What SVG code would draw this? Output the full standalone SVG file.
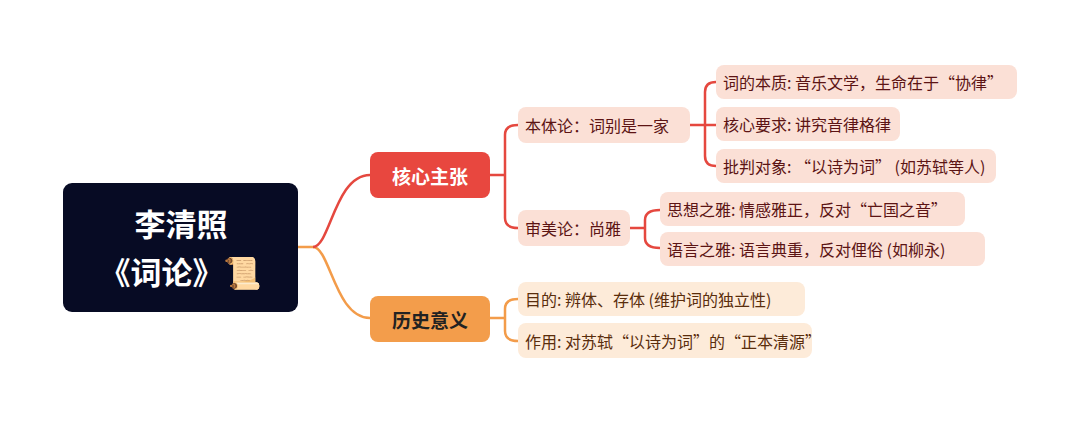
<svg xmlns="http://www.w3.org/2000/svg" width="1080" height="422" viewBox="0 0 1080 422">
<style>
text{font-family:"Noto Sans CJK SC","Liberation Sans",sans-serif;dominant-baseline:central}
.r{fill:#fbe0d6}.o{fill:#fdebd9}
.tr{fill:#5c1414;font-size:16px}.to{fill:#5a2d0c;font-size:16px}
.cr{stroke:#e5483f;stroke-width:2.5;fill:none}.co{stroke:#f39c4a;stroke-width:2.5;fill:none}
</style>
<rect width="1080" height="422" fill="#fff"/>
<g id="connectors">
<path class="co" d="M298 247 H313 C330 247 335 318 370 318"/>
<path class="cr" d="M313 247 C330 247 335 175 370 175"/>
<path class="cr" d="M490 175 H505 M505 175 V135 Q505 125 518 125 M505 175 V218 Q505 228 518 228"/>
<path class="cr" d="M690 125 H705 M705 125 V92 Q705 82 716 82 M705 125 H716 M705 125 V156 Q705 166 716 166"/>
<path class="cr" d="M630 228 H645 M645 228 V220 Q645 210 660 210 M645 228 V238 Q645 248 660 248"/>
<path class="co" d="M490 318 H505 M505 318 V309 Q505 299 518 299 M505 318 V331 Q505 341 518 341"/>
</g>
<g id="root"><rect x="63" y="183" width="235" height="129" rx="9" fill="#070b24"/>
<text x="181" y="222" text-anchor="middle" fill="#fff" font-size="31" font-weight="bold">李清照</text>
<text x="181" y="270" text-anchor="middle" fill="#fff" font-size="31" font-weight="bold">《词论》📜</text></g>
<g id="n1"><rect x="370" y="152" width="120" height="46" rx="8" fill="#e8473f"/><text x="430" y="175" text-anchor="middle" fill="#fff" font-size="19" font-weight="bold">核心主张</text></g>
<g id="n2"><rect x="370" y="296" width="120" height="46" rx="8" fill="#f39d4b"/><text x="430" y="319" text-anchor="middle" fill="#222" font-size="19" font-weight="bold">历史意义</text></g>
<g id="n11"><rect class="r" x="518" y="107" width="172" height="36" rx="8"/><text class="tr" x="525" y="125">本体论：词别是一家</text></g>
<g id="n12"><rect class="r" x="518" y="210" width="112" height="36" rx="8"/><text class="tr" x="525" y="228">审美论：尚雅</text></g>
<g id="l1"><rect class="r" x="716" y="65" width="301" height="34" rx="8"/><text class="tr" x="723" y="82">词的本质: 音乐文学，生命在于“协律”</text></g>
<g id="l2"><rect class="r" x="716" y="107" width="184" height="34" rx="8"/><text class="tr" x="723" y="124">核心要求: 讲究音律格律</text></g>
<g id="l3"><rect class="r" x="716" y="149" width="280" height="34" rx="8"/><text class="tr" x="723" y="166">批判对象: “以诗为词” (如苏轼等人)</text></g>
<g id="l4"><rect class="r" x="660" y="192" width="305" height="34" rx="8"/><text class="tr" x="667" y="209">思想之雅: 情感雅正，反对“亡国之音”</text></g>
<g id="l5"><rect class="r" x="660" y="232" width="325" height="34" rx="8"/><text class="tr" x="667" y="249">语言之雅: 语言典重，反对俚俗 (如柳永)</text></g>
<g id="l6"><rect class="o" x="518" y="282" width="287" height="34" rx="8"/><text class="to" x="525" y="299">目的: 辨体、存体 (维护词的独立性)</text></g>
<g id="l7"><rect class="o" x="518" y="323" width="294" height="35" rx="8"/><text class="to" x="525" y="341">作用: 对苏轼“以诗为词”的“正本清源”</text></g>
</svg>
